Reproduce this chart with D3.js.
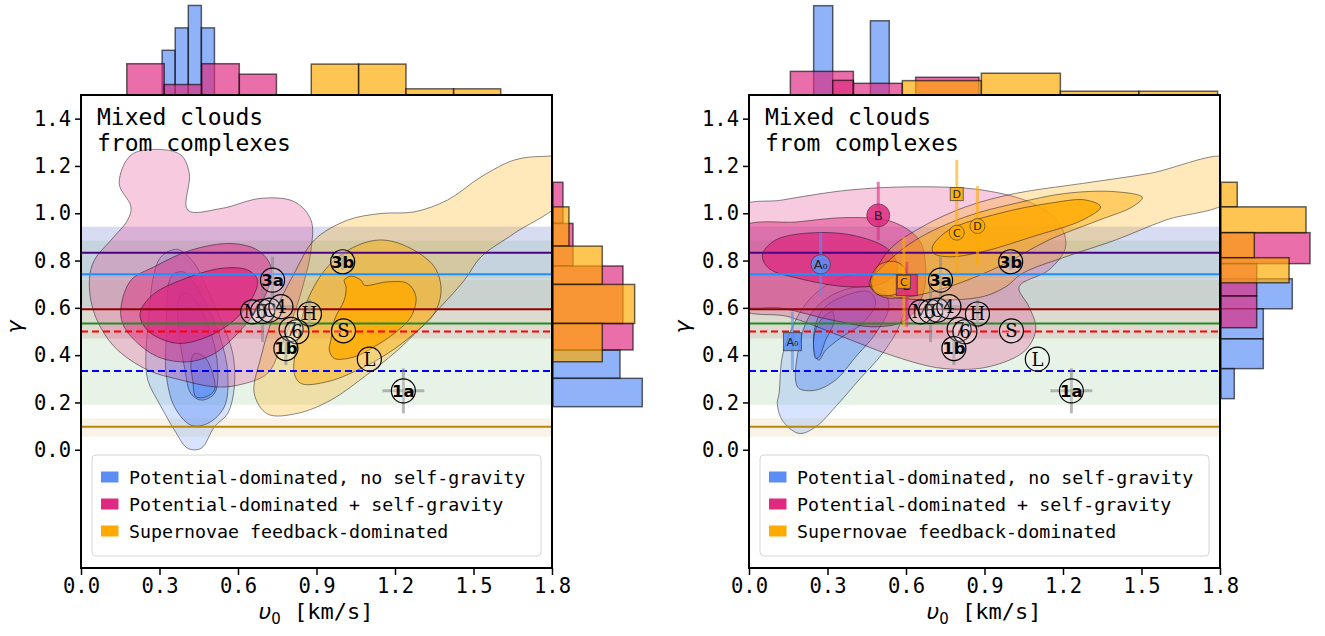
<!DOCTYPE html>
<html><head><meta charset="utf-8">
<script src="https://cdn.jsdelivr.net/npm/d3@7"></script>
<style>body{margin:0;background:#fff;} svg{display:block;}</style>
</head><body><svg id="c" width="1325" height="636"></svg>
<script>
// ---------------- DATA ----------------
const xTicks = [0, 0.3, 0.6, 0.9, 1.2, 1.5, 1.8];
const yTicks = [0, 0.2, 0.4, 0.6, 0.8, 1.0, 1.2, 1.4];
const seriesNames = ["Potential-dominated, no self-gravity", "Potential-dominated + self-gravity", "Supernovae feedback-dominated"];
const seriesColors = ["#5b8ef5", "#de2a80", "#ffaa00"];
const panelTitle = ["Mixed clouds", "from complexes"];

// horizontal reference lines (gamma) and shaded bands
const refValues = [0.833, 0.742, 0.594, 0.534, 0.5, 0.333, 0.097];
const refColors = ["#4b0082", "#1e90ff", "#8b0000", "#228b22", "#ff0000", "#0000ff", "#b8860b"];
const refDashed = [false, false, false, false, true, true, false];
const refBandLow = [0.723, 0.60, 0.47, 0.19, null, null, 0.055];
const refBandHigh = [0.943, 0.943, 0.72, 0.884, null, null, 0.133];

// top marginal histograms [v0 low, v0 high, density]
const leftTopBlue = [[0.31, 0.36, 3.33], [0.36, 0.41, 5.0], [0.41, 0.46, 6.67], [0.46, 0.51, 5.0]];
const leftTopPink = [[0.175, 0.318, 2.33], [0.318, 0.461, 0.78], [0.461, 0.605, 2.33], [0.605, 0.747, 1.55]];
const leftTopOrange = [[0.88, 1.061, 2.30], [1.061, 1.242, 2.30], [1.242, 1.424, 0.46], [1.424, 1.604, 0.46]];
const rightTopBlue = [[0.247, 0.320, 6.65], [0.464, 0.536, 5.53]];
const rightTopPink = [[0.158, 0.399, 1.76], [0.320, 0.399, 1.09], [0.399, 0.586, 0.87], [0.637, 0.879, 1.32]];
const rightTopOrange = [[0.586, 0.888, 1.07], [0.888, 1.190, 1.62], [1.190, 1.490, 0.28], [1.490, 1.791, 0.28]];

// side marginal histograms [gamma low, gamma high, density]
const leftSideBlue = [[0.302, 0.422, 4.99], [0.182, 0.302, 6.65]];
const leftSidePink = [[0.957, 1.131, 0.74], [0.777, 0.957, 1.49], [0.534, 0.777, 5.21], [0.422, 0.534, 5.96]];
const leftSideOrange = [[0.861, 1.027, 1.19], [0.699, 0.861, 3.67], [0.534, 0.699, 6.08], [0.372, 0.534, 3.67]];
const rightSideBlue = [[0.596, 0.723, 5.31], [0.469, 0.596, 3.15], [0.343, 0.469, 3.15], [0.216, 0.343, 0.99]];
const rightSidePink = [[0.787, 0.918, 6.63], [0.650, 0.787, 2.66], [0.516, 0.650, 2.66]];
const rightSideOrange = [[1.027, 1.131, 1.21], [0.918, 1.027, 6.33], [0.812, 0.918, 2.48], [0.706, 0.812, 5.07]];

// KDE contour levels, [v0, gamma] vertices
const leftBlueLevels = [
  [[0.369,0.847],[0.433,0.788],[0.484,0.675],[0.535,0.548],[0.580,0.407],[0.586,0.266],[0.561,0.154],[0.510,0.097],[0.459,0.006],[0.408,0.006],[0.357,0.083],[0.306,0.182],[0.255,0.295],[0.248,0.407],[0.261,0.576],[0.274,0.717],[0.306,0.816]],
  [[0.357,0.746],[0.395,0.751],[0.433,0.703],[0.484,0.605],[0.535,0.464],[0.561,0.323],[0.548,0.182],[0.484,0.111],[0.420,0.104],[0.357,0.182],[0.325,0.323],[0.325,0.464],[0.329,0.633],[0.338,0.717]],
  [[0.382,0.654],[0.408,0.661],[0.452,0.605],[0.497,0.492],[0.522,0.351],[0.510,0.238],[0.459,0.210],[0.420,0.238],[0.395,0.351],[0.376,0.478],[0.369,0.605]],
  [[0.433,0.407],[0.471,0.393],[0.503,0.323],[0.510,0.252],[0.478,0.224],[0.439,0.224],[0.427,0.295],[0.420,0.365]]
];
const leftPinkLevels = [
  [[0.146,1.126],[0.191,1.246],[0.293,1.270],[0.382,1.246],[0.414,1.168],[0.408,1.013],[0.535,1.020],[0.688,1.063],[0.815,1.049],[0.879,0.971],[0.879,0.844],[0.854,0.717],[0.815,0.576],[0.764,0.436],[0.713,0.323],[0.599,0.273],[0.510,0.266],[0.382,0.295],[0.255,0.337],[0.127,0.436],[0.051,0.576],[0.032,0.717],[0.051,0.802],[0.115,0.887],[0.178,0.971],[0.191,1.027]],
  [[0.153,0.605],[0.191,0.717],[0.280,0.774],[0.420,0.844],[0.573,0.872],[0.675,0.844],[0.726,0.774],[0.713,0.675],[0.662,0.576],[0.599,0.492],[0.510,0.407],[0.408,0.372],[0.293,0.393],[0.204,0.464],[0.159,0.534]],
  [[0.229,0.591],[0.280,0.661],[0.382,0.717],[0.535,0.767],[0.637,0.760],[0.675,0.717],[0.650,0.633],[0.586,0.548],[0.484,0.478],[0.369,0.450],[0.268,0.492],[0.229,0.548]]
];
const leftOrangeLevels = [
  [[0.662,0.238],[0.688,0.393],[0.739,0.576],[0.815,0.746],[0.892,0.887],[1.019,0.971],[1.146,0.999],[1.274,1.006],[1.401,1.056],[1.529,1.154],[1.656,1.225],[1.758,1.240],[1.840,1.230],[1.840,1.060],[1.656,0.915],[1.529,0.816],[1.465,0.717],[1.338,0.562],[1.210,0.421],[1.083,0.309],[0.955,0.210],[0.828,0.154],[0.713,0.151]],
  [[0.815,0.323],[0.828,0.464],[0.866,0.633],[0.943,0.774],[1.045,0.858],[1.146,0.887],[1.248,0.858],[1.350,0.774],[1.376,0.675],[1.350,0.576],[1.274,0.492],[1.172,0.407],[1.057,0.337],[0.943,0.288],[0.841,0.280]],
  [[0.955,0.464],[0.968,0.548],[1.006,0.633],[1.013,0.689],[1.006,0.717],[1.032,0.734],[1.070,0.717],[1.083,0.696],[1.172,0.710],[1.248,0.703],[1.280,0.647],[1.261,0.562],[1.197,0.492],[1.121,0.436],[1.045,0.393],[0.968,0.386],[0.949,0.421]]
];
const rightBlueLevels = [
  [[0.115,0.238],[0.127,0.393],[0.166,0.520],[0.229,0.633],[0.331,0.717],[0.459,0.746],[0.561,0.717],[0.599,0.647],[0.573,0.520],[0.510,0.407],[0.420,0.295],[0.331,0.182],[0.255,0.097],[0.191,0.069],[0.127,0.125],[0.108,0.196]],
  [[0.178,0.295],[0.191,0.436],[0.229,0.562],[0.306,0.647],[0.420,0.689],[0.510,0.675],[0.535,0.605],[0.484,0.492],[0.408,0.393],[0.331,0.295],[0.255,0.252],[0.191,0.259]],
  [[0.255,0.393],[0.248,0.492],[0.280,0.591],[0.357,0.647],[0.459,0.668],[0.484,0.619],[0.433,0.534],[0.357,0.478],[0.293,0.421],[0.268,0.379]],
  [[0.255,0.386],[0.248,0.478],[0.274,0.548],[0.318,0.583],[0.325,0.541],[0.293,0.464],[0.268,0.393]]
];
const rightPinkLevels = [
  [[-0.04,1.020],[0.127,1.056],[0.382,1.098],[0.637,1.112],[0.892,1.098],[1.083,1.042],[1.185,0.957],[1.210,0.858],[1.146,0.760],[1.032,0.689],[1.070,0.605],[1.096,0.513],[1.057,0.421],[0.917,0.351],[0.739,0.344],[0.561,0.393],[0.357,0.478],[0.153,0.562],[-0.04,0.605]],
  [[-0.04,0.932],[0.191,0.964],[0.382,0.982],[0.548,0.964],[0.650,0.887],[0.675,0.774],[0.662,0.647],[0.599,0.548],[0.484,0.520],[0.318,0.548],[0.127,0.598],[-0.04,0.619]],
  [[0.051,0.823],[0.102,0.887],[0.255,0.918],[0.420,0.901],[0.535,0.844],[0.567,0.760],[0.510,0.703],[0.382,0.689],[0.191,0.724],[0.076,0.767]]
];
const rightOrangeLevels = [
  [[0.471,0.717],[0.535,0.844],[0.662,0.943],[0.828,1.027],[1.019,1.084],[1.274,1.126],[1.529,1.168],[1.834,1.232],[1.834,1.056],[1.592,0.971],[1.401,0.887],[1.210,0.816],[1.045,0.746],[0.981,0.689],[0.892,0.647],[0.701,0.633],[0.548,0.647],[0.478,0.675]],
  [[0.459,0.703],[0.510,0.774],[0.637,0.887],[0.828,0.985],[1.019,1.042],[1.210,1.084],[1.401,1.091],[1.503,1.067],[1.465,1.027],[1.338,0.971],[1.146,0.887],[0.955,0.774],[0.764,0.689],[0.611,0.647],[0.510,0.647]],
  [[0.701,0.858],[0.764,0.929],[0.955,0.999],[1.146,1.042],[1.287,1.056],[1.344,1.027],[1.274,0.971],[1.083,0.901],[0.892,0.837],[0.764,0.816],[0.707,0.830]],
  [[0.465,0.717],[0.497,0.781],[0.561,0.795],[0.599,0.760],[0.599,0.689],[0.548,0.654],[0.484,0.661]]
];

// observed clouds
const cloudIds = ["M", "5", "C", "4", "3a", "3b", "H", "7", "6", "1b", "S", "L", "1a"];
const cloudV0 = [0.656, 0.694, 0.720, 0.764, 0.732, 1.000, 0.873, 0.803, 0.825, 0.783, 1.003, 1.102, 1.232];
const cloudGamma = [0.583, 0.585, 0.590, 0.605, 0.717, 0.795, 0.574, 0.509, 0.499, 0.428, 0.503, 0.383, 0.249];
const cloudV0Err = [0, 0, 0, 0.05, 0, 0, 0, 0, 0, 0, 0, 0, 0.08];
const cloudGammaErr = [0, 0.13, 0, 0, 0.10, 0.035, 0.06, 0, 0, 0.07, 0, 0, 0.095];
const cloudBold = [false, false, false, false, true, true, false, false, false, true, false, false, true];

// simulated clouds (right panel only)
const simIds = ["B", "A\u2080", "A\u2080", "D", "C", "D", "B", "C"];
const simShape = ["circle", "circle", "square", "square", "circle", "circle", "square", "square"];
const simSeries = [1, 0, 0, 2, 2, 2, 1, 2];
const simV0 = [0.494, 0.274, 0.166, 0.794, 0.794, 0.873, 0.603, 0.592];
const simGamma = [0.991, 0.784, 0.457, 1.081, 0.918, 0.946, 0.696, 0.710];
const simGammaLo = [0.886, 0.654, 0.337, 0.746, 0.918, 0.781, 0.52, 0.52];
const simGammaHi = [1.133, 0.918, 0.583, 1.225, 0.918, 1.115, 0.795, 0.90];
const simSize = [11.5, 9.7, 9, 6.5, 7.5, 7.5, 10.5, 6.5];

// ---------------- DRAW ----------------
const svg = d3.select("#c");
const W = 471, H = 473, TOP = 95;
const MONO = "DejaVu Sans Mono";
const levelAlpha = [[0.24, 0.42, 0.42, 0.6], [0.25, 0.47, 0.75], [0.27, 0.45, 0.8, 0.45]];

const panels = [
  {x0: 81, levels: [leftBlueLevels, leftPinkLevels, leftOrangeLevels],
   top: [leftTopBlue, leftTopPink, leftTopOrange], side: [leftSideBlue, leftSidePink, leftSideOrange], sims: false},
  {x0: 749, levels: [rightBlueLevels, rightPinkLevels, rightOrangeLevels],
   top: [rightTopBlue, rightTopPink, rightTopOrange], side: [rightSideBlue, rightSidePink, rightSideOrange], sims: true}
];

panels.forEach((p, pi) => {
  const x = d3.scaleLinear().domain([0, 1.8]).range([p.x0, p.x0 + W]);
  const y = d3.scaleLinear().domain([-0.5, 1.5]).range([TOP + H, TOP]);
  const hy = d3.scaleLinear().domain([0, 7]).range([TOP, TOP - 94]);
  const hx = d3.scaleLinear().domain([0, 7]).range([p.x0 + W + 1, p.x0 + W + 95]);
  const g = svg.append("g");

  const clipId = "clip" + pi;
  svg.append("clipPath").attr("id", clipId).append("rect")
    .attr("x", p.x0).attr("y", TOP).attr("width", W).attr("height", H);

  // marginal histograms
  p.top.forEach((bars, si) => {
    g.append("g").selectAll("rect").data(bars).join("rect")
      .attr("x", d => x(d[0])).attr("width", d => x(d[1]) - x(d[0]))
      .attr("y", d => hy(d[2])).attr("height", d => hy(0) - hy(d[2]))
      .attr("fill", seriesColors[si]).attr("fill-opacity", 0.68)
      .attr("stroke", "#000").attr("stroke-opacity", 0.6).attr("stroke-width", 1.5);
  });
  p.side.forEach((bars, si) => {
    g.append("g").selectAll("rect").data(bars).join("rect")
      .attr("y", d => y(d[1])).attr("height", d => y(d[0]) - y(d[1]))
      .attr("x", hx(0)).attr("width", d => hx(d[2]) - hx(0))
      .attr("fill", seriesColors[si]).attr("fill-opacity", 0.68)
      .attr("stroke", "#000").attr("stroke-opacity", 0.6).attr("stroke-width", 1.5);
  });

  const pg = g.append("g").attr("clip-path", `url(#${clipId})`);

  // bands
  refValues.forEach((v, i) => {
    if (refBandLow[i] === null) return;
    pg.append("rect").attr("x", x(0)).attr("width", x(1.8) - x(0))
      .attr("y", y(refBandHigh[i])).attr("height", y(refBandLow[i]) - y(refBandHigh[i]))
      .attr("fill", refColors[i]).attr("fill-opacity", 0.1);
  });

  // contours
  const line = d3.line().x(d => x(d[0])).y(d => y(d[1])).curve(d3.curveCatmullRomClosed.alpha(0.5));
  p.levels.forEach((levels, si) => {
    levels.forEach((poly, li) => {
      pg.append("path").attr("d", line(poly))
        .attr("fill", seriesColors[si]).attr("fill-opacity", levelAlpha[si][li])
        .attr("stroke", "#000").attr("stroke-opacity", 0.45).attr("stroke-width", 1);
    });
  });

  // reference lines
  refValues.forEach((v, i) => {
    pg.append("line").attr("x1", x(0)).attr("x2", x(1.8)).attr("y1", y(v)).attr("y2", y(v))
      .attr("stroke", refColors[i]).attr("stroke-width", 2)
      .attr("stroke-dasharray", refDashed[i] ? "7,4" : null);
  });

  // simulated clouds
  if (p.sims) {
    simIds.forEach((id, i) => {
      const c = seriesColors[simSeries[i]];
      if (simGammaHi[i] > simGammaLo[i]) {
        pg.append("line").attr("x1", x(simV0[i])).attr("x2", x(simV0[i]))
          .attr("y1", y(simGammaLo[i])).attr("y2", y(simGammaHi[i]))
          .attr("stroke", c).attr("stroke-opacity", 0.6).attr("stroke-width", 3);
      }
    });
    simIds.forEach((id, i) => {
      const c = seriesColors[simSeries[i]];
      const cx = x(simV0[i]), cy = y(simGamma[i]), s = simSize[i];
      if (simShape[i] === "circle") {
        pg.append("circle").attr("cx", cx).attr("cy", cy).attr("r", s)
          .attr("fill", c).attr("fill-opacity", 0.85).attr("stroke", "#333").attr("stroke-opacity", 0.6).attr("stroke-width", 1);
      } else {
        pg.append("rect").attr("x", cx - s).attr("y", cy - s).attr("width", 2 * s).attr("height", 2 * s)
          .attr("fill", c).attr("fill-opacity", 0.85).attr("stroke", "#333").attr("stroke-opacity", 0.7).attr("stroke-width", 1);
      }
      pg.append("text").attr("x", cx).attr("y", cy).attr("dy", "0.36em").attr("text-anchor", "middle")
        .attr("font-family", "DejaVu Sans").attr("font-size", s > 9 ? 13 : 11).attr("fill", "#222").text(id);
    });
  }

  // observed clouds: error bars
  cloudIds.forEach((id, i) => {
    const cx = x(cloudV0[i]), cy = y(cloudGamma[i]);
    if (cloudGammaErr[i] > 0) {
      pg.append("line").attr("x1", cx).attr("x2", cx)
        .attr("y1", y(cloudGamma[i] - cloudGammaErr[i])).attr("y2", y(cloudGamma[i] + cloudGammaErr[i]))
        .attr("stroke", "#888").attr("stroke-opacity", 0.6).attr("stroke-width", 3);
    }
    if (cloudV0Err[i] > 0) {
      pg.append("line").attr("y1", cy).attr("y2", cy)
        .attr("x1", x(cloudV0[i] - cloudV0Err[i])).attr("x2", x(cloudV0[i] + cloudV0Err[i]))
        .attr("stroke", "#888").attr("stroke-opacity", 0.6).attr("stroke-width", 3);
    }
  });
  cloudIds.forEach((id, i) => {
    const cx = x(cloudV0[i]), cy = y(cloudGamma[i]);
    pg.append("circle").attr("cx", cx).attr("cy", cy).attr("r", 12)
      .attr("fill", "#fff").attr("fill-opacity", 0.2).attr("stroke", "#000").attr("stroke-width", 1.2);
    pg.append("text").attr("x", cx).attr("y", cy).attr("dy", "0.36em").attr("text-anchor", "middle")
      .attr("font-family", cloudBold[i] ? "DejaVu Sans" : "DejaVu Serif")
      .attr("font-weight", cloudBold[i] ? "bold" : "normal")
      .attr("font-size", cloudBold[i] ? 16.5 : 18).attr("fill", "#000").text(id);
  });

  // title text
  panelTitle.forEach((t, k) => {
    g.append("text").attr("x", p.x0 + 16).attr("y", 125 + k * 26)
      .attr("font-family", MONO).attr("font-size", 23).attr("fill", "#000")
      .attr("xml:space", "preserve").style("white-space", "pre").text(t);
  });

  // legend
  const lg = g.append("g");
  lg.append("rect").attr("x", p.x0 + 11).attr("y", 455).attr("width", 449).attr("height", 101).attr("rx", 4)
    .attr("fill", "#fff").attr("fill-opacity", 0.85).attr("stroke", "#d6d6d6").attr("stroke-width", 1);
  seriesNames.forEach((n, k) => {
    const cy = 477 + k * 27;
    lg.append("rect").attr("x", p.x0 + 20).attr("y", cy - 5.5).attr("width", 17.5).attr("height", 11)
      .attr("fill", seriesColors[k]);
    lg.append("text").attr("x", p.x0 + 48).attr("y", cy + 6.5)
      .attr("font-family", MONO).attr("font-size", 18.3).attr("fill", "#000").text(n);
  });

  // frame
  g.append("rect").attr("x", p.x0).attr("y", TOP).attr("width", W).attr("height", H)
    .attr("fill", "none").attr("stroke", "#000").attr("stroke-width", 2);

  // axes
  const xa = g.append("g").attr("transform", `translate(0,${TOP + H})`)
    .call(d3.axisBottom(x).tickValues(xTicks).tickFormat(d3.format(".1f")).tickSize(7).tickPadding(3));
  const ya = g.append("g").attr("transform", `translate(${p.x0},0)`)
    .call(d3.axisLeft(y).tickValues(yTicks).tickFormat(d3.format(".1f")).tickSize(6).tickPadding(4));
  [xa, ya].forEach(a => {
    a.select(".domain").remove();
    a.selectAll("line").attr("stroke", "#000").attr("stroke-width", 1.5);
    a.selectAll("text").attr("font-family", MONO).attr("font-size", 20.5).attr("fill", "#000");
  });

  // axis labels
  const xl = g.append("text").attr("x", p.x0 + 235).attr("y", 619).attr("text-anchor", "middle")
    .attr("font-size", 22).attr("fill", "#000");
  xl.append("tspan").attr("font-family", "DejaVu Sans").attr("font-style", "italic").text("\u03c5");
  xl.append("tspan").attr("font-family", "DejaVu Sans").attr("font-size", 15).attr("dy", 5).text("0");
  xl.append("tspan").attr("font-family", MONO).attr("dy", -5).attr("xml:space", "preserve").text(" [km/s]");

  g.append("text").attr("transform", `translate(${p.x0 - 59},327) rotate(-90)`).attr("text-anchor", "middle")
    .attr("font-family", "DejaVu Sans").attr("font-style", "italic").attr("font-size", 22).attr("fill", "#000").text("\u03b3");
});
</script></body></html>
